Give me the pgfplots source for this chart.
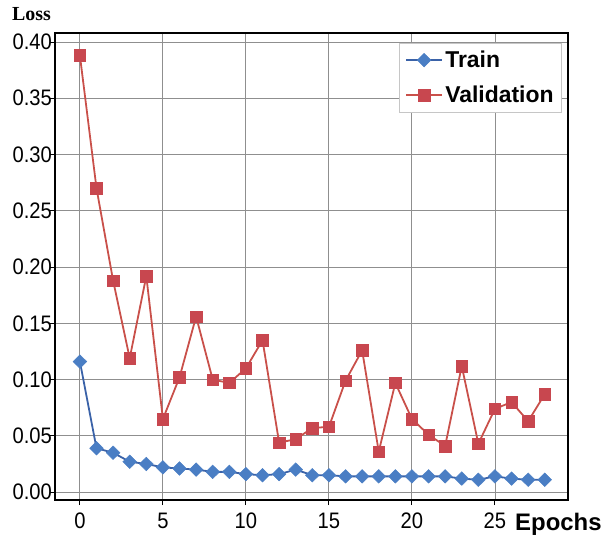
\documentclass[border=0pt]{standalone}
\usepackage{pgfplots}
\pgfplotsset{compat=1.18}
\usepackage{fontspec}
\setmainfont{Liberation Sans}
\newfontfamily\narrowfont[FakeStretch=0.9]{Liberation Sans}
\newfontfamily\seriffont{Liberation Serif}
\definecolor{trainline}{HTML}{3A62A8}
\definecolor{trainmark}{HTML}{4A7EC4}
\definecolor{valline}{HTML}{C9504A}
\definecolor{valmark}{HTML}{C8474F}
\definecolor{gridc}{HTML}{8F8F8F}
\begin{document}
\begin{tikzpicture}
\useasboundingbox (0,0) rectangle (609bp,537bp);
\begin{axis}[
  at={(55bp,37bp)}, anchor=south west,
  scale only axis, width=513bp, height=467bp,
  xmin=-1.5, xmax=29.4, ymin=-0.007, ymax=0.408,
  xtick={0,5,10,15,20,25},
  ytick={0,0.05,0.10,0.15,0.20,0.25,0.30,0.35,0.40},
  yticklabel={\pgfmathprintnumber[fixed,fixed zerofill,precision=2]{\tick}},
  /pgf/number format/assume math mode=true,
  tick align=outside, major tick length=5bp,
  tick style={black, line width=1pt},
  xtick pos=bottom, ytick pos=left,
  ticklabel style={font=\narrowfont\fontsize{22.5}{26}\selectfont},
  yticklabel style={inner sep=0pt, xshift=2bp},
  xticklabel style={inner sep=0pt, yshift=-8bp},
  grid=major,
  major grid style={gridc, line width=0.9pt},
  axis line style={black, line width=1.8pt},
  legend style={at={(axis description cs:0.988,0.979)}, anchor=north east,
    draw=gray!45, line width=0.6pt, font=\bfseries\fontsize{23}{27}\selectfont,
    inner xsep=6bp, inner ysep=6bp, row sep=13bp},
  legend cell align=left,
  legend image code/.code={\draw[line width=2.5pt, mark repeat=2,mark phase=2] plot coordinates {(0bp,0bp) (18bp,0bp) (36bp,0bp)};},
]
\addplot[trainline, line width=1.8pt, mark=diamond*, mark size=6.8pt,
  mark options={draw=trainmark, fill=trainmark, line width=0.5pt, xscale=1.35}]
  coordinates {
  (0,0.116) (1,0.039) (2,0.035) (3,0.027) (4,0.025) (5,0.022) (6,0.021)
  (7,0.020) (8,0.018) (9,0.018) (10,0.016) (11,0.015) (12,0.016) (13,0.020)
  (14,0.015) (15,0.015) (16,0.014) (17,0.014) (18,0.014) (19,0.014) (20,0.014)
  (21,0.014) (22,0.014) (23,0.012) (24,0.011) (25,0.014) (26,0.012) (27,0.011) (28,0.011)
  };
\addlegendentry{Train}
\addplot[valline, line width=1.8pt, mark=square*, mark size=5.8pt,
  mark options={draw=valmark, fill=valmark, line width=0.5pt}]
  coordinates {
  (0,0.388) (1,0.270) (2,0.188) (3,0.119) (4,0.192) (5,0.065) (6,0.102)
  (7,0.156) (8,0.100) (9,0.097) (10,0.110) (11,0.135) (12,0.044) (13,0.047)
  (14,0.057) (15,0.058) (16,0.099) (17,0.126) (18,0.036) (19,0.097) (20,0.065)
  (21,0.051) (22,0.041) (23,0.112) (24,0.043) (25,0.074) (26,0.080) (27,0.063) (28,0.087)
  };
\addlegendentry{Validation}
\end{axis}
\node[anchor=base west, inner sep=0pt, font=\seriffont\bfseries\fontsize{20}{24}\selectfont] at (12bp,516bp) {Loss};
\node[anchor=base west, inner sep=0pt, font=\bfseries\fontsize{24}{28}\selectfont] at (515bp,7bp) {Epochs};
\end{tikzpicture}
\end{document}
